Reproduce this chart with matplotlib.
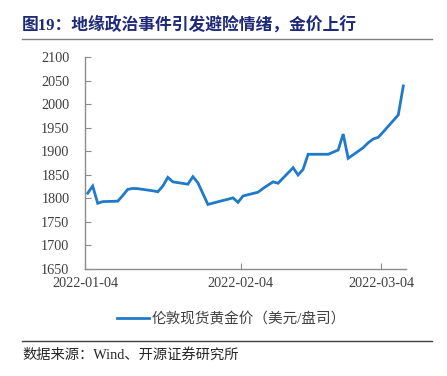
import matplotlib
matplotlib.use("Agg")
import matplotlib.pyplot as plt
import pandas as pd
from matplotlib.lines import Line2D

dates = ["2022-01-04", "2022-01-05", "2022-01-06", "2022-01-07", "2022-01-10",
         "2022-01-11", "2022-01-12", "2022-01-13", "2022-01-14", "2022-01-17",
         "2022-01-18", "2022-01-19", "2022-01-20", "2022-01-21", "2022-01-24",
         "2022-01-25", "2022-01-26", "2022-01-27", "2022-01-28", "2022-01-31",
         "2022-02-01", "2022-02-02", "2022-02-03", "2022-02-04", "2022-02-07",
         "2022-02-08", "2022-02-09", "2022-02-10", "2022-02-11", "2022-02-14",
         "2022-02-15", "2022-02-16", "2022-02-17", "2022-02-18", "2022-02-21",
         "2022-02-22", "2022-02-23", "2022-02-24", "2022-02-25", "2022-02-28",
         "2022-03-01", "2022-03-02", "2022-03-03", "2022-03-04", "2022-03-07",
         "2022-03-08"]
gold = [1811, 1826, 1789.5, 1793, 1794,
        1806, 1819, 1821, 1820.5, 1816,
        1814, 1826, 1844.5, 1835, 1830,
        1846, 1833, 1810, 1787, 1795.5,
        1798, 1801, 1791.5, 1805, 1813,
        1821, 1828, 1835, 1832, 1865,
        1849.5, 1861.5, 1893.5, 1893.5, 1893.5,
        1898, 1902.5, 1936.5, 1885, 1907.5,
        1918, 1926, 1929.5, 1941, 1977,
        2038.5]
xtick_labels = ["2022-01-04", "2022-02-04", "2022-03-04"]
yticks = list(range(1650, 2101, 50))
series_name = "伦敦现货黄金价（美元/盘司）"
title = "图19：地缘政治事件引发避险情绪，金价上行"
source = "数据来源：Wind、开源证券研究所"

W, H = 447, 376
fig = plt.figure(figsize=(W / 100, H / 100), dpi=100)
ax = fig.add_axes([85.4 / W, 1 - 269 / H, (406 - 85.4) / W, (269 - 57) / H])

x = pd.to_datetime(dates) + pd.Timedelta(hours=11)
line_color = "#1f7ac9"
ax.plot(x, gold, color=line_color, lw=2.0, solid_joinstyle="miter")

ax.set_ylim(1650, 2100)
ax.set_yticks(yticks)
ax.set_xlim(pd.Timestamp("2022-01-04"), pd.Timestamp("2022-01-04") + pd.Timedelta(days=64))
ax.set_xticks(pd.to_datetime(xtick_labels))
ax.set_xticklabels(xtick_labels)

serif = ["Liberation Serif", "DejaVu Serif"]
for lab in ax.get_yticklabels() + ax.get_xticklabels():
    lab.set_fontfamily(serif)
    lab.set_fontsize(10.3)
    lab.set_color("#404040")

axis_col = "#8c8c8c"
for s in ["top", "right"]:
    ax.spines[s].set_visible(False)
for s in ["left", "bottom"]:
    ax.spines[s].set_color(axis_col)
    ax.spines[s].set_linewidth(1.0)
ax.tick_params(axis="both", direction="in", length=4, width=0.8, color=axis_col)
ax.tick_params(axis="y", pad=11.5)
ax.tick_params(axis="x", pad=6)

mixed = ["Liberation Serif", "Noto Sans CJK SC", "DejaVu Sans"]
fig.text(22 / W, 1 - 25 / H, title, fontfamily=mixed, fontsize=12.1, fontweight="bold",
         color="#1e2a78", va="center", ha="left")
fig.add_artist(Line2D([22 / W, 432 / W], [1 - 38.5 / H] * 2, color="#7f7f7f", lw=1.0))

fig.add_artist(Line2D([117 / W, 149 / W], [1 - 318.3 / H] * 2, color=line_color, lw=2.0))
fig.text(151.5 / W, 1 - 319 / H, series_name, fontfamily=mixed, fontsize=10.5,
         color="#404040", va="center", ha="left")

fig.add_artist(Line2D([22 / W, 432 / W], [1 - 341 / H] * 2, color="#404040", lw=1.0))
fig.text(22 / W, 1 - 355 / H, source, fontfamily=mixed, fontsize=10.3,
         color="#262626", va="center", ha="left")

fig.savefig("out.png", dpi=100)
